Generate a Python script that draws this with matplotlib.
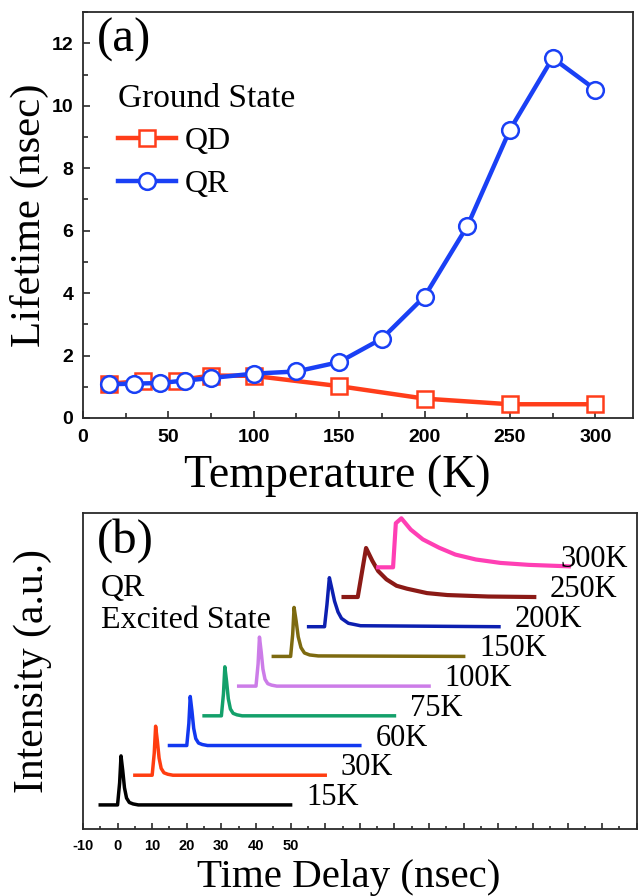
import matplotlib
matplotlib.use("Agg")
import matplotlib.pyplot as plt
from matplotlib.ticker import MultipleLocator

# ---- panel (a): ground state lifetimes ----
qd_temp = [15, 35, 55, 75, 100, 150, 200, 250, 300]
qd_life = [1.10, 1.18, 1.20, 1.36, 1.35, 1.02, 0.62, 0.44, 0.44]
qr_temp = [15, 30, 45, 60, 75, 100, 125, 150, 175, 200, 225, 250, 275, 300]
qr_life = [1.08, 1.10, 1.12, 1.20, 1.28, 1.42, 1.49, 1.79, 2.54, 3.89, 6.14, 9.23, 11.53, 10.52]

# ---- panel (b): QR excited state decay traces ----
trace_labels = ["15K", "30K", "60K", "75K", "100K", "150K", "200K", "250K", "300K"]
trace_peak = [1, 11, 21, 31, 41, 51, 61.2, 71.8, 82]   # ns, peak position on delay axis
narrow_dt = [-6, -1.0, -0.4, 0, 0.5, 1.0, 1.6, 2.4, 3.5, 5, 49]
narrow_y = [0, 0, 0.45, 1.0, 0.7, 0.35, 0.14, 0.05, 0.02, 0, 0]
k150_dt = [-6, -1.0, -0.4, 0, 0.6, 1.2, 2.0, 3.0, 4.5, 7, 49]
k150_y = [0, 0, 0.45, 1.0, 0.72, 0.4, 0.18, 0.07, 0.03, 0.01, 0]
k200_dt = [-6, -1.4, -0.7, 0, 0.7, 1.5, 2.5, 3.5, 5.5, 9, 49]
k200_y = [0, 0, 0.45, 1.0, 0.78, 0.52, 0.30, 0.17, 0.07, 0.02, 0]
k250_dt = [-6.5, -2.4, -1.2, 0, 1.8, 3.5, 5.9, 8.8, 11.8, 17.6, 23.5, 35.3, 48.6]
k250_y = [0, 0, 0.5, 1.0, 0.74, 0.53, 0.36, 0.23, 0.17, 0.08, 0.04, 0.01, 0]
k300_dt = [-6.7, -2.4, -1.6, 0, 2.7, 6.2, 10.9, 15.6, 21.5, 28.6, 36.8, 48.4]
k300_y = [0, 0, 0.9, 1.0, 0.77, 0.57, 0.40, 0.26, 0.16, 0.09, 0.05, 0.02]
trace_dt = [narrow_dt] * 5 + [k150_dt, k200_dt, k250_dt, k300_dt]
trace_y = [narrow_y] * 5 + [k150_y, k200_y, k250_y, k300_y]

trace_colors = ["#000000", "#ff3d10", "#1238f0", "#13a06a", "#cc7ce8",
                "#7d6a10", "#0c1fb0", "#8b1a16", "#ff3fb4"]

serif = "Liberation Serif"
sans = "Liberation Sans"
spine_c = "#2a2a2a"

fig = plt.figure(figsize=(6.38, 8.96), dpi=100)
ax = fig.add_axes([0.130, 0.5335, 0.862, 0.453])
bx = fig.add_axes([0.130, 0.0748, 0.868, 0.3527])

for a in (ax, bx):
    for s in a.spines.values():
        s.set_color(spine_c)
        s.set_linewidth(1.3)

# panel a
ax.plot(qd_temp, qd_life, color="#ff3d1a", lw=3.2, marker="s", ms=11,
        mfc="white", mec="#ff3d1a", mew=1.8, label="QD", zorder=3)
ax.plot(qr_temp, qr_life, color="#1a40f5", lw=3.2, marker="o", ms=12,
        mfc="white", mec="#1a40f5", mew=1.8, label="QR", zorder=4)
ax.set_xlim(0, 322)
ax.set_ylim(0, 13)
ax.xaxis.set_major_locator(MultipleLocator(50))
ax.xaxis.set_minor_locator(MultipleLocator(25))
ax.yaxis.set_major_locator(MultipleLocator(2))
ax.yaxis.set_minor_locator(MultipleLocator(1))
ax.tick_params(which="both", direction="in", top=False, right=False, color=spine_c, width=1.2)
ax.tick_params(which="major", length=5)
ax.tick_params(which="minor", length=3.5)
ax.tick_params(axis="x", pad=8)
ax.tick_params(axis="y", pad=7)
for t in ax.get_xticklabels() + ax.get_yticklabels():
    t.set_fontfamily(sans)
    t.set_fontweight("bold")
    t.set_fontsize(14)
ax.set_xlabel("Temperature (K)", fontfamily=serif, fontsize=33)
ax.set_ylabel("Lifetime (nsec)", fontfamily=serif, fontsize=31)
ax.xaxis.set_label_coords(0.462, -0.09)
ax.yaxis.set_label_coords(-0.061, 0.5)
ax.text(0.025, 0.985, "(a)", transform=ax.transAxes, fontfamily=serif,
        fontsize=35, va="top", ha="left")
ax.legend(title="Ground State", loc="upper left", bbox_to_anchor=(0.064, 0.825),
          frameon=False, prop={"family": serif, "size": 23},
          title_fontproperties={"family": serif, "size": 24}, alignment="left",
          handlelength=1.8, handletextpad=0.3, labelspacing=0.42,
          borderpad=0, borderaxespad=0)

# panel b
step = 1.0
for i, lab in enumerate(trace_labels):
    base = i * step
    xs = [trace_peak[i] + d for d in trace_dt[i]]
    ys = [base + 1.65 * v for v in trace_y[i]]
    lw = 3.0 if i >= 7 else 2.5
    bx.plot(xs, ys, color=trace_colors[i], lw=lw, solid_joinstyle="round")
    lx = min(xs[-1] + 4.5, 128)
    bx.text(lx, base, lab, fontfamily=serif, fontsize=22, va="baseline", ha="left")
bx.set_xlim(-10, 150)
bx.set_ylim(-0.81, 9.83)
bx.set_xticks(range(-10, 151, 10))
bx.set_xticklabels([str(v) if v <= 50 else "" for v in range(-10, 151, 10)])
bx.xaxis.set_minor_locator(MultipleLocator(5))
bx.set_yticks([])
bx.tick_params(which="both", direction="in", top=False, right=False, color=spine_c, width=1.2)
bx.tick_params(which="major", length=4.5)
bx.tick_params(which="minor", length=2.5)
bx.tick_params(axis="x", pad=7)
for t in bx.get_xticklabels():
    t.set_fontfamily(sans)
    t.set_fontweight("bold")
    t.set_fontsize(10.5)
bx.set_xlabel("Time Delay (nsec)", fontfamily=serif, fontsize=29.5)
bx.set_ylabel("Intensity (a.u.)", fontfamily=serif, fontsize=30)
bx.xaxis.set_label_coords(0.48, -0.095)
bx.yaxis.set_label_coords(-0.056, 0.5)
bx.text(0.025, 0.985, "(b)", transform=bx.transAxes, fontfamily=serif,
        fontsize=35, va="top", ha="left")
bx.text(0.033, 0.76, "QR", transform=bx.transAxes, fontfamily=serif,
        fontsize=23, va="center", ha="left")
bx.text(0.033, 0.66, "Excited State", transform=bx.transAxes, fontfamily=serif,
        fontsize=23, va="center", ha="left")

fig.savefig("out.png", dpi=100)
